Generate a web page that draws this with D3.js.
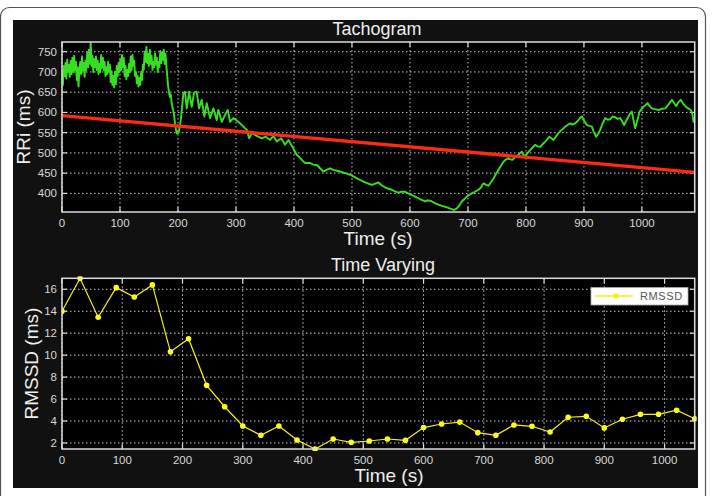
<!DOCTYPE html>
<html>
<head>
<meta charset="utf-8">
<script src="https://cdn.jsdelivr.net/npm/d3@7"></script>
<style>
body { margin: 0; background: #fff; }
text { font-family: "Liberation Sans", Arial, sans-serif; }
</style>
</head>
<body>
<div id="chart"></div>
<script>
// Tachogram (time s, RRi ms)
const tachogram = [
  [0,700],[1.5,668],[3,715],[4.5,690],[6,722],[7.5,684],[9,730],[10.5,700],[12,718],[13.5,688],
  [15,728],[16.5,695],[18,735],[19.5,700],[21,740],[22.5,705],[24,725],[25.5,680],[27,712],[28.5,664],
  [30,705],[31.5,725],[33,695],[34.5,738],[36,705],[37.5,722],[39,688],[40.5,728],[42,705],[43.5,748],
  [45,712],[46.5,755],[48,720],[49.5,772],[51,715],[52.5,740],[54,700],[55.5,732],[57,712],[58.5,738],
  [60,705],[61.5,728],[63,695],[64.5,720],[66,700],[67.5,742],[69,710],[70.5,735],[72,705],[73.5,725],
  [75,690],[76.5,712],[78,695],[79.5,725],[81,700],[82.5,718],[84,675],[85.5,702],[87,668],[88.5,690],
  [90,662],[91.5,700],[93,670],[94.5,715],[96,690],[97.5,722],[99,700],[100.5,730],[102,705],[103.5,742],
  [105,712],[106.5,735],[108,690],[109.5,715],[111,682],[112.5,705],[114,690],[115.5,720],[117,700],[118.5,738],
  [120,705],[121.5,742],[123,715],[124.5,728],[126,690],[127.5,700],[129,672],[130.5,690],[132,664],[133.5,685],
  [135,668],[136.5,700],[138,680],[139.5,718],[141,705],[142.5,750],[144,725],[145.5,762],[147,722],[148.5,745],
  [150,715],[151.5,755],[153,720],[154.5,740],[156,705],[157.5,725],[159,712],[160.5,746],[162,718],[163.5,735],
  [165,700],[166.5,725],[168,712],[169.5,752],[171,722],[172.5,748],[174,730],[175.5,755],[177,720],[178.5,745],
  [180,715],[181.5,690],[183,665],[184.5,650],[186,638],[187.5,645],[189,625],[190.5,612],[192,604],[193.5,590],
  [195,570],[196.5,558],[198,548],[199.5,552],[201,550],[202.5,560],[204,572],[205.5,590],
  [209.3,647],[212.2,651],[215.1,610],[219.1,651],[223.7,614],[227.7,649],[232.3,651],[236.3,610],[240.9,631],
  [245.5,590],[249.6,623],[255.3,586],[261,610],[266.8,581],[269.6,606],[275.5,577],[281.2,594],[285.8,606],
  [289.8,577],[295.5,586],[304.2,577],[312.8,565],[318.6,557],[322.6,536],[327.2,549],[335.8,542],[344.5,536],
  [351.4,540],[358.8,532],[364.5,542],[370.3,528],[377.8,536],[384.7,520],[390.4,532],[397.3,515],[404.9,495],
  [410.6,488],[416,479],[419.2,475],[427.8,475],[433,471],[439.3,470],[445,462],[450.8,454],[456,458],
  [462.3,462],[468,458],[473.9,456],[479.6,454],[485.4,451],[491.1,449],[496.9,446],[502.6,442],[508.4,437],
  [514,433],[519.9,429],[527,425],[534.2,421],[540,424],[545.7,427],[551,420],[557.2,415],[562,412],
  [568.7,409],[574,405],[580.2,402],[585,404],[591.7,404],[597,400],[603.2,396],[609,392],[614.7,388],
  [620,384],[626.2,380],[630,383],[634.8,382],[637.7,380],[643,376],[649.2,372],[655,369],[660.7,367],
  [666,364],[672.2,361],[676,359],[680.9,363],[685,370],[689.5,380],[694,386],[698.1,392],[702,396],
  [706.7,400],[712,404],[718.2,409],[722,414],[726.8,425],[731,421],[735.4,419],[740,428],[744,437],
  [748,447],[752.6,458],[757,468],[761.3,478],[765,483],[769.9,487],[773,484],[776.8,483],[780,488],
  [784.4,491],[788,497],[793,503],[796,495],[798.7,491],[803,500],[807.3,507],[812,514],[815.9,520],
  [820,516],[824.6,515],[829,522],[833.2,528],[837,534],[840.1,540],[844,536],[847.5,532],[852,541],
  [856.2,549],[860,555],[864.8,561],[867.7,565],[872,569],[876.3,573],[880,570],[884.9,573],[890,580],
  [893,586],[896.4,590],[900,580],[905,569],[909,567],[913.7,565],[917,552],[921.1,540],[925,548],
  [928,557],[932,572],[936.7,586],[941,582],[945.3,583],[949,590],[953.9,588],[958,584],[962.5,586],
  [966,578],[969.4,569],[973,580],[976.9,590],[980,598],[982.7,602],[985,584],[988.4,561],[992,580],
  [995.9,602],[999,608],[1002.8,614],[1006,618],[1009.7,623],[1013,616],[1017.2,610],[1022,608],[1028.7,606],
  [1034,609],[1040.2,610],[1046,620],[1051.7,631],[1055,624],[1059.2,616],[1063,625],[1067.2,631],[1071,622],
  [1076.4,613],[1080,610],[1084.4,606],[1087,595],[1089,577],[1091,580]
];
// linear trend of RRi
const trendTime = [0, 1091];
const trendRRi = [592, 452];

// Time varying RMSSD
const rmssdTime = [0,30,60,90,120,150,180,210,240,270,300,330,360,390,420,450,480,510,
                   540,570,600,630,660,690,720,750,780,810,840,870,900,930,960,990,1020,1050];
const rmssdValues = [14.0,17.0,13.45,16.15,15.3,16.4,10.3,11.5,7.25,5.3,3.55,2.7,3.55,2.27,1.45,2.36,2.06,2.18,
                     2.36,2.24,3.4,3.73,3.9,2.94,2.7,3.64,3.52,3.0,4.34,4.43,3.37,4.16,4.61,4.61,4.98,4.2];

const tachoXTicks = [0,100,200,300,400,500,600,700,800,900,1000];
const tachoYTicks = [400,450,500,550,600,650,700,750];
const rmssdXTicks = [0,100,200,300,400,500,600,700,800,900,1000];
const rmssdYTicks = [2,4,6,8,10,12,14,16];

const W = 713, H = 496;
const svg = d3.select('#chart').append('svg')
    .attr('width', W).attr('height', H);

// outer frame + dark figure background
svg.append('rect').attr('x', 0.5).attr('y', 7.5).attr('width', 705).attr('height', 520)
    .attr('rx', 9).attr('fill', '#fff').attr('stroke', '#555').attr('stroke-width', 1.2);
svg.append('rect').attr('x', 13).attr('y', 20).attr('width', 685).attr('height', 468)
    .attr('fill', '#111');

function drawPanel(p) {
    const x = d3.scaleLinear().domain(p.xDomain).range([p.left, p.right]);
    const y = d3.scaleLinear().domain(p.yDomain).range([p.bottom, p.top]);
    const g = svg.append('g');

    g.append('rect').attr('x', p.left).attr('y', p.top)
        .attr('width', p.right - p.left).attr('height', p.bottom - p.top)
        .attr('fill', '#000');

    // dotted grid
    g.selectAll('.gx').data(p.xTicks).enter().append('line')
        .attr('x1', d => x(d)).attr('x2', d => x(d))
        .attr('y1', p.top).attr('y2', p.bottom)
        .attr('stroke', '#c8c8c8').attr('stroke-width', 1).attr('stroke-dasharray', '1.5,2.5');
    g.selectAll('.gy').data(p.yTicks).enter().append('line')
        .attr('y1', d => y(d)).attr('y2', d => y(d))
        .attr('x1', p.left).attr('x2', p.right)
        .attr('stroke', '#c8c8c8').attr('stroke-width', 1).attr('stroke-dasharray', '1.5,2.5');

    // inward tick marks
    g.selectAll('.tx').data(p.xTicks).enter().append('line')
        .attr('x1', d => x(d)).attr('x2', d => x(d))
        .attr('y1', p.bottom).attr('y2', p.bottom - 5)
        .attr('stroke', '#ddd').attr('stroke-width', 1.2);
    g.selectAll('.tx2').data(p.xTicks).enter().append('line')
        .attr('x1', d => x(d)).attr('x2', d => x(d))
        .attr('y1', p.top).attr('y2', p.top + 5)
        .attr('stroke', '#ddd').attr('stroke-width', 1.2);
    g.selectAll('.ty').data(p.yTicks).enter().append('line')
        .attr('y1', d => y(d)).attr('y2', d => y(d))
        .attr('x1', p.left).attr('x2', p.left + 5)
        .attr('stroke', '#ddd').attr('stroke-width', 1.2);
    g.selectAll('.ty2').data(p.yTicks).enter().append('line')
        .attr('y1', d => y(d)).attr('y2', d => y(d))
        .attr('x1', p.right).attr('x2', p.right - 5)
        .attr('stroke', '#ddd').attr('stroke-width', 1.2);

    // tick labels
    g.selectAll('.lx').data(p.xTicks).enter().append('text')
        .attr('x', d => x(d)).attr('y', p.bottom + 15)
        .attr('text-anchor', 'middle').attr('font-size', 11.5)
        .attr('fill', '#d8d8d8').text(d => d);
    g.selectAll('.ly').data(p.yTicks).enter().append('text')
        .attr('x', p.left - 5).attr('y', d => y(d) + 4)
        .attr('text-anchor', 'end').attr('font-size', 11.5)
        .attr('fill', '#d8d8d8').text(d => d);

    // titles
    g.append('text').attr('x', p.titleX).attr('y', p.top - 7)
        .attr('text-anchor', 'middle').attr('font-size', 18).attr('fill', '#eee')
        .text(p.title);
    g.append('text').attr('x', p.xLabelX).attr('y', p.bottom + 33)
        .attr('text-anchor', 'middle').attr('font-size', 19).attr('fill', '#eee')
        .text('Time (s)');
    g.append('text')
        .attr('transform', 'translate(' + p.yLabelX + ',' + ((p.top + p.bottom) / 2) + ') rotate(-90)')
        .attr('text-anchor', 'middle').attr('font-size', 19).attr('fill', '#eee')
        .text(p.yLabel);

    const clipId = 'clip-' + p.title.replace(/\s/g, '');
    svg.append('clipPath').attr('id', clipId).append('rect')
        .attr('x', p.left).attr('y', p.top - 2)
        .attr('width', p.right - p.left + 2).attr('height', p.bottom - p.top + 4);
    const plot = svg.append('g').attr('clip-path', 'url(#' + clipId + ')');

    return {x, y, g, plot, p};
}

function drawBox(panel) {
    const p = panel.p;
    svg.append('rect').attr('x', p.left).attr('y', p.top)
        .attr('width', p.right - p.left).attr('height', p.bottom - p.top)
        .attr('fill', 'none').attr('stroke', '#dcdcdc').attr('stroke-width', 1.5);
}

// ---- Tachogram ----
const tachoPanel = drawPanel({
    left: 62, right: 694.7, top: 42, bottom: 212,
    xDomain: [0, 1091], yDomain: [354, 774],
    xTicks: tachoXTicks, yTicks: tachoYTicks,
    title: 'Tachogram', titleX: 377, xLabelX: 378, yLabelX: 30, yLabel: 'RRi (ms)'
});

tachoPanel.plot.append('path')
    .datum(tachogram)
    .attr('d', d3.line().x(d => tachoPanel.x(d[0])).y(d => tachoPanel.y(d[1])))
    .attr('fill', 'none').attr('stroke', '#36e021').attr('stroke-width', 1.9)
    .attr('stroke-linejoin', 'round');

tachoPanel.plot.append('path')
    .datum(d3.zip(trendTime, trendRRi))
    .attr('d', d3.line().x(d => tachoPanel.x(d[0])).y(d => tachoPanel.y(d[1])))
    .attr('fill', 'none').attr('stroke', '#ff2a12').attr('stroke-width', 3.4);
drawBox(tachoPanel);

// ---- Time varying RMSSD ----
const rmssdPanel = drawPanel({
    left: 62, right: 694.7, top: 278.3, bottom: 449,
    xDomain: [0, 1050], yDomain: [1.45, 17.0],
    xTicks: rmssdXTicks, yTicks: rmssdYTicks,
    title: 'Time Varying', titleX: 383, xLabelX: 389, yLabelX: 38, yLabel: 'RMSSD (ms)'
});

const rmssd = d3.zip(rmssdTime, rmssdValues);
rmssdPanel.plot.append('path')
    .datum(rmssd)
    .attr('d', d3.line().x(d => rmssdPanel.x(d[0])).y(d => rmssdPanel.y(d[1])))
    .attr('fill', 'none').attr('stroke', '#f2f20a').attr('stroke-width', 1.2);
rmssdPanel.plot.selectAll('circle').data(rmssd).enter().append('circle')
    .attr('cx', d => rmssdPanel.x(d[0])).attr('cy', d => rmssdPanel.y(d[1]))
    .attr('r', 2.8).attr('fill', '#ffff14');
drawBox(rmssdPanel);

// legend
const leg = svg.append('g');
leg.append('rect').attr('x', 591).attr('y', 287.5).attr('width', 97).attr('height', 17.5)
    .attr('fill', '#fff').attr('stroke', '#aaa').attr('stroke-width', 0.8);
leg.append('line').attr('x1', 595).attr('x2', 633).attr('y1', 296).attr('y2', 296)
    .attr('stroke', '#f2f20a').attr('stroke-width', 1.4);
leg.append('circle').attr('cx', 616).attr('cy', 296).attr('r', 2.8).attr('fill', '#f2f20a');
leg.append('text').attr('x', 640).attr('y', 300).attr('font-size', 11)
    .attr('letter-spacing', 0.6).attr('fill', '#555').text('RMSSD');
</script>
</body>
</html>
